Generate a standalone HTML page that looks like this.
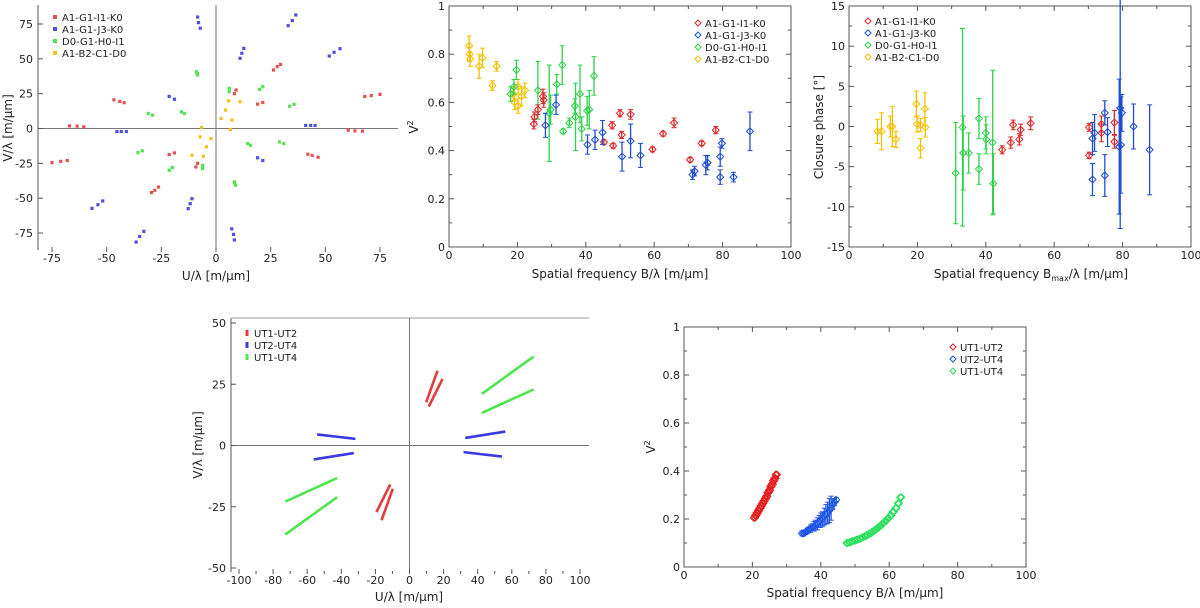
<!DOCTYPE html>
<html><head><meta charset="utf-8"><style>
html,body{margin:0;padding:0;background:#fff;}
svg{display:block;font-family:"DejaVu Sans","Liberation Sans",sans-serif;}
</style></head><body>
<svg id="fig" width="1200" height="608" viewBox="0 0 1200 608" xmlns="http://www.w3.org/2000/svg"></svg>
<script>
// ---------- DATA ----------
// Panel 1 uv coverage (one half; the other half is the point-symmetric copy)
const uv1RedU=[68,71,75,60.5,63.5,67,42,44,46.7,26.3,28,29.5,8.4,9.2,19,21.4];
const uv1RedV=[23,23.6,24.5,-1.2,-1.7,-1.9,-18.5,-19.4,-20.6,42,44.4,46,25,27.6,17.5,18.7];
const uv1BlueU=[33,34.9,36.5,51.8,54,56.7,41,43.3,45.3,19,21.4,11,11.8,12.7,-8.4,-8,-7.2];
const uv1BlueV=[73.8,77.5,81.5,52,54.7,57.3,2.2,2.2,2.2,-21,-23,50.4,54,57.5,80,76,72];
const uv1GreenU=[-9,-8.6,-8.4,6.1,6.1,20,21.4,33.7,35.7,29,31,14.5,15.8];
const uv1GreenV=[40.7,39.5,38.4,28.8,26.4,28,30,16,17.3,-9.6,-10.8,-10.8,-12];
const uv1YellowU=[2.3,4.3,5.8,7.3,11,6.6];
const uv1YellowV=[7.2,13.2,19.9,6,19.2,-0.7];
const uv1Ticks=[-75,-50,-25,0,25,50,75];

// Panel 2 V2 vs spatial frequency
const v2YelX=[5.9,6,6.2,8.8,9.8,12.7,13.9,18.8,19.2,20.2,21.2,22.2,20.2];
const v2YelY=[0.835,0.80,0.78,0.75,0.785,0.67,0.75,0.635,0.60,0.585,0.625,0.65,0.665];
const v2YelE=[0.04,0.03,0.03,0.05,0.04,0.02,0.02,0.03,0.03,0.03,0.04,0.03,0.03];
const v2GrnX=[18,19,19.7,26,29.3,29.7,31.5,33.1,33.4,35.2,36.8,37,38.3,38.8,40.4,41,42.4];
const v2GrnY=[0.635,0.665,0.735,0.65,0.555,0.57,0.675,0.755,0.48,0.515,0.585,0.54,0.635,0.49,0.565,0.57,0.71];
const v2GrnE=[0.03,0.03,0.04,0.12,0.2,0.06,0.04,0.08,0.01,0.02,0.03,0.14,0.12,0.05,0.06,0.08,0.08];
const v2RedX=[24.8,25,26,27.5,27.7,45.3,47.7,48,50,50.5,53.1,59.5,62.6,65.8,70.5,73.9,78];
const v2RedY=[0.51,0.54,0.57,0.625,0.61,0.435,0.505,0.42,0.555,0.465,0.55,0.405,0.47,0.515,0.362,0.43,0.485];
const v2RedE=[0.02,0.02,0.02,0.03,0.03,0.01,0.015,0.01,0.015,0.015,0.02,0.01,0.01,0.02,0.01,0.01,0.015];
const v2BluX=[28.2,31.3,40.5,42.7,44.9,50.6,53.1,56,71.2,71.8,75.1,75.6,79.3,79.3,79.8,83.2,88];
const v2BluY=[0.505,0.59,0.425,0.445,0.475,0.375,0.44,0.38,0.30,0.315,0.34,0.35,0.375,0.29,0.43,0.29,0.48];
const v2BluE=[0.05,0.04,0.04,0.04,0.05,0.06,0.07,0.05,0.02,0.02,0.04,0.03,0.04,0.03,0.02,0.02,0.08];

// Panel 3 closure phase
const cpYelX=[8.3,9.5,12.1,12.7,13.7,19.7,19.9,20.9,20.9,22.2,22.3];
const cpYelY=[-0.6,-0.6,0,0,-1.6,2.8,0.3,0.2,-2.7,2.2,-0.1];
const cpYelE=[1.5,2.3,1.3,2.5,1,1.6,1,0.8,1.2,2,1.2];
const cpGrnX=[31.2,33.2,33.4,35,38,38,40,40.1,42,42.2];
const cpGrnY=[-5.8,-0.1,-3.3,-3.3,1.0,-5.3,-0.8,-1.6,-2,-7.1];
const cpGrnE=[6.3,12.3,4.6,2.5,2.5,1.9,2,1.8,9,3.7];
const cpRedX=[44.8,47.3,48,49.8,50.2,53.1,70.2,70.2,73.8,73.8,77.6,77.6];
const cpRedY=[-2.9,-2,0.2,-1.6,-0.4,0.4,-0.1,-3.6,-0.8,0.3,0.5,-1.9];
const cpRedE=[0.5,0.7,0.6,0.7,0.7,0.8,0.5,0.4,1.1,1,1.5,0.8];
const cpBluX=[71.2,71.2,71.8,74.8,74.8,75.6,79,79.3,79.5,79.8,83.2,87.9];
const cpBluY=[-6.6,-1.5,-0.8,1.7,-6.1,-0.7,-2.5,2.3,-2.3,1.7,0,-2.9];
const cpBluE=[2,2,2.3,1.5,2.6,1.8,8.4,15,6,2.3,2.8,5.6];

// Panel 4 UT uv tracks (start u,v -> end u,v); other half mirrored
const utRedU0=[9.8,11.3], utRedV0=[17.7,15.9], utRedU1=[16.4,19.4], utRedV1=[30.5,27.2];
const utBluU0=[32.7,31.7], utBluV0=[3.1,-2.7], utBluU1=[56.2,54.2], utBluV1=[5.7,-4.5];
const utGrnU0=[42.5,42.5], utGrnV0=[21.1,13.3], utGrnU1=[72.8,72.8], utGrnV1=[36.3,22.9];

// Panel 5 UT V2
const utV2RedX=[20.8,21.2,21.6,22,22.4,22.8,23.2,23.6,24,24.4,24.8,25.2,25.6,26,26.4,26.8,27.2];
const utV2RedY=[0.205,0.215,0.225,0.235,0.245,0.255,0.265,0.275,0.285,0.295,0.31,0.32,0.335,0.345,0.36,0.37,0.385];
const utV2BluX=[34.5,35,35.5,36,36.5,37,37.5,38,38.5,39,39.5,40,40.5,41,41.5,42,42.5,43,43.5,44,44.5];
const utV2BluY=[0.14,0.14,0.145,0.15,0.155,0.16,0.165,0.17,0.175,0.18,0.19,0.195,0.2,0.21,0.22,0.225,0.235,0.245,0.26,0.27,0.28];
const utV2BluE=[0.01,0.01,0.01,0.012,0.012,0.015,0.015,0.02,0.02,0.025,0.025,0.03,0.03,0.035,0.04,0.045,0.05,0.05,0.02,0.015,0.01];
const utV2GrnX=[47.5,48.3,49,49.8,50.5,51.3,52,52.8,53.5,54.3,55,55.8,56.5,57.3,58,58.8,59.5,60.3,61,61.8,62.5,63.2];
const utV2GrnY=[0.10,0.103,0.107,0.11,0.114,0.118,0.123,0.128,0.134,0.14,0.147,0.155,0.163,0.172,0.182,0.192,0.203,0.215,0.23,0.245,0.265,0.29];

// ---------- DRAWING ----------
const NS="http://www.w3.org/2000/svg";
const svg=document.getElementById('fig');
function mk(tag,attrs,parent,txt){const e=document.createElementNS(NS,tag);for(const k in attrs)e.setAttribute(k,attrs[k]);if(txt!==undefined)e.textContent=txt;(parent||svg).appendChild(e);return e;}
function scale(d0,d1,p0,p1){return v=>p0+(v-d0)*(p1-p0)/(d1-d0);}
function grp(name){const g=mk('g',{});return g;}
const AX='#555';

function frameBox(g,x0,y0,x1,y1){mk('rect',{x:x0,y:y0,width:x1-x0,height:y1-y0,fill:'none',stroke:AX,'stroke-width':1},g);}
function xTicks(g,sx,vals,minor,y0,y1,labY,fmt,both){
  vals.forEach(v=>{const x=sx(v);mk('line',{x1:x,x2:x,y1:y1,y2:y1-5,stroke:AX},g);if(both)mk('line',{x1:x,x2:x,y1:y0,y2:y0+5,stroke:AX},g);
    const t=mk('text',{x:x,y:labY,'font-size':11,'text-anchor':'middle',fill:'#222'},g,fmt(v));});
  minor.forEach(v=>{const x=sx(v);mk('line',{x1:x,x2:x,y1:y1,y2:y1-3,stroke:AX},g);if(both)mk('line',{x1:x,x2:x,y1:y0,y2:y0+3,stroke:AX},g);});
}
function yTicks(g,sy,vals,minor,x0,x1,labX,fmt,both){
  vals.forEach(v=>{const y=sy(v);mk('line',{x1:x0,x2:x0+5,y1:y,y2:y,stroke:AX},g);if(both)mk('line',{x1:x1,x2:x1-5,y1:y,y2:y,stroke:AX},g);
    const t=mk('text',{x:labX,y:y+4,'font-size':11,'text-anchor':'end',fill:'#222'},g,fmt(v));});
  minor.forEach(v=>{const y=sy(v);mk('line',{x1:x0,x2:x0+3,y1:y,y2:y,stroke:AX},g);if(both)mk('line',{x1:x1,x2:x1-3,y1:y,y2:y,stroke:AX},g);});
}
function diamond(g,x,y,c,r){r=r||3.5;mk('path',{d:`M${x} ${y-r}L${x+r} ${y}L${x} ${y+r}L${x-r} ${y}Z`,fill:'none',stroke:c,'stroke-width':1},g);}
function errPts(g,sx,sy,X,Y,E,c,name,r){
  for(let i=0;i<X.length;i++){
    const x=sx(X[i]),y=sy(Y[i]);
    if(E){const ya=sy(Y[i]+E[i]),yb=sy(Y[i]-E[i]);
      mk('line',{x1:x,x2:x,y1:ya,y2:yb,stroke:c,'stroke-width':1.3},g);
      mk('line',{x1:x-2.5,x2:x+2.5,y1:ya,y2:ya,stroke:c},g);mk('line',{x1:x-2.5,x2:x+2.5,y1:yb,y2:yb,stroke:c},g);}
    const p=mk('g',{},g);
    
    
    diamond(p,x,y,c,r);
  }
}
function legend(g,x,y0,dy,items,kind){
  items.forEach((it,i)=>{const y=y0+i*dy;const e=mk('g',{},g);
    
    
    if(kind==='sq')mk('rect',{x:x-2,y:y-2,width:4,height:4,fill:it[1]},e);
    else if(kind==='bar')mk('rect',{x:x-1.5,y:y-3,width:3,height:6,fill:it[1]},e);
    else diamond(e,x,y,it[1],3);
    mk('text',{x:x+7,y:y+4,'font-size':10,fill:'#222'},e,it[0]);});
}
function title(g,x,y,txt,rot,name){const t=mk('text',{x:x,y:y,'font-size':12,'text-anchor':'middle',fill:'#222',transform:rot?`rotate(-90 ${x} ${y})`:''},g);t.innerHTML=txt;return t;}
const R='#e0282a',B='#1f4fd0',G='#2ed24a',Y='#f5c000';

// ---- Panel 1 ----
(function(){
  const g=grp('uv-coverage-panel');
  const sx=scale(-75,75,52,380), sy=scale(-75,75,233,24);
  mk('line',{x1:38,x2:38,y1:5,y2:250,stroke:AX},g);
  mk('line',{x1:sx(0),x2:sx(0),y1:5,y2:250,stroke:'#777'},g);
  mk('line',{x1:38,x2:398,y1:sy(0),y2:sy(0),stroke:'#777'},g);
  xTicks(g,sx,uv1Ticks,[],5,252,262,v=>v,false);
  yTicks(g,sy,uv1Ticks,[],38,398,33,v=>v,false);
  const sets=[[uv1RedU,uv1RedV,'#e85050'],[uv1BlueU,uv1BlueV,'#5050e0'],[uv1GreenU,uv1GreenV,'#55e055'],[uv1YellowU,uv1YellowV,'#f2c21a']];
  sets.forEach(s=>{for(let i=0;i<s[0].length;i++){[1,-1].forEach(m=>{const p=mk('rect',{x:sx(m*s[0][i])-1.6,y:sy(m*s[1][i])-1.6,width:3.2,height:3.2,fill:s[2]},g);
    
    });}});
  legend(g,55,17,12,[['A1-G1-I1-K0','#e85050'],['A1-G1-J3-K0','#5050e0'],['D0-G1-H0-I1','#55e055'],['A1-B2-C1-D0','#f2c21a']],'sq');
  title(g,216,280,'U/λ  [m/μm]',false,'x-axis-title');
  title(g,12,128,'V/λ  [m/μm]',true,'y-axis-title');
})();

// ---- Panel 2 ----
(function(){
  const g=grp('v2-panel');
  const sx=scale(0,100,449,791), sy=scale(0,1,247,6);
  frameBox(g,449,6,791,247);
  xTicks(g,sx,[0,20,40,60,80,100],[10,30,50,70,90],6,247,259,v=>v,true);
  yTicks(g,sy,[0,0.2,0.4,0.6,0.8,1],[0.1,0.3,0.5,0.7,0.9],449,791,445,v=>v,true);
  errPts(g,sx,sy,v2YelX,v2YelY,v2YelE,Y,'v2-point-a1b2c1d0');
  errPts(g,sx,sy,v2GrnX,v2GrnY,v2GrnE,G,'v2-point-d0g1h0i1');
  errPts(g,sx,sy,v2RedX,v2RedY,v2RedE,R,'v2-point-a1g1i1k0');
  errPts(g,sx,sy,v2BluX,v2BluY,v2BluE,B,'v2-point-a1g1j3k0');
  legend(g,698,23,12,[['A1-G1-I1-K0',R],['A1-G1-J3-K0',B],['D0-G1-H0-I1',G],['A1-B2-C1-D0',Y]],'d');
  title(g,620,278,'Spatial frequency B/λ [m/μm]',false,'x-axis-title');
  title(g,418,127,'V<tspan dy="-5" font-size="8">2</tspan>',true,'y-axis-title');
})();

// ---- Panel 3 ----
(function(){
  const g=grp('closure-phase-panel');
  const sx=scale(0,100,849,1191), sy=scale(-15,15,247,6);
  frameBox(g,849,6,1191,247);
  xTicks(g,sx,[0,20,40,60,80,100],[10,30,50,70,90],6,247,259,v=>v,true);
  yTicks(g,sy,[-15,-10,-5,0,5,10,15],[-12.5,-7.5,-2.5,2.5,7.5,12.5],849,1191,845,v=>v,true);
  errPts(g,sx,sy,cpYelX,cpYelY,cpYelE,Y,'cp-point-a1b2c1d0');
  errPts(g,sx,sy,cpGrnX,cpGrnY,cpGrnE,G,'cp-point-d0g1h0i1');
  errPts(g,sx,sy,cpRedX,cpRedY,cpRedE,R,'cp-point-a1g1i1k0');
  errPts(g,sx,sy,cpBluX,cpBluY,cpBluE,B,'cp-point-a1g1j3k0');
  legend(g,868,21,12,[['A1-G1-I1-K0',R],['A1-G1-J3-K0',B],['D0-G1-H0-I1',G],['A1-B2-C1-D0',Y]],'d');
  title(g,1031,278,'Spatial frequency B<tspan dy="3" font-size="8">max</tspan><tspan dy="-3">/λ  [m/μm]</tspan>',false,'x-axis-title');
  title(g,823,127,'Closure phase  [°]',true,'y-axis-title');
})();

// ---- Panel 4 ----
(function(){
  const g=grp('ut-uv-coverage-panel');
  const sx=scale(-100,100,239,580), sy=scale(-50,50,568,323);
  mk('line',{x1:231,x2:231,y1:318,y2:572,stroke:AX},g);
  mk('line',{x1:231,x2:589,y1:318,y2:318,stroke:'#999'},g);
  mk('line',{x1:sx(0),x2:sx(0),y1:318,y2:572,stroke:'#777'},g);
  mk('line',{x1:231,x2:589,y1:sy(0),y2:sy(0),stroke:'#777'},g);
  xTicks(g,sx,[-100,-80,-60,-40,-20,0,20,40,60,80,100],[-90,-70,-50,-30,-10,10,30,50,70,90],318,574,584,v=>v,false);
  yTicks(g,sy,[-50,-25,0,25,50],[],231,589,226,v=>v,false);
  const sets=[[utRedU0,utRedV0,utRedU1,utRedV1,'#e43c3c','ut1-ut2-track'],[utBluU0,utBluV0,utBluU1,utBluV1,'#3a3ae0','ut2-ut4-track'],[utGrnU0,utGrnV0,utGrnU1,utGrnV1,'#4de64d','ut1-ut4-track']];
  sets.forEach(s=>{for(let i=0;i<s[0].length;i++){[1,-1].forEach(m=>{const l=mk('line',{x1:sx(m*s[0][i]),y1:sy(m*s[1][i]),x2:sx(m*s[2][i]),y2:sy(m*s[3][i]),stroke:s[4],'stroke-width':2.6},g);
    
    });}});
  legend(g,247,333,12,[['UT1-UT2','#e43c3c'],['UT2-UT4','#3a3ae0'],['UT1-UT4','#4de64d']],'bar');
  title(g,409,601,'U/λ  [m/μm]',false,'x-axis-title');
  title(g,202,445,'V/λ  [m/μm]',true,'y-axis-title');
})();

// ---- Panel 5 ----
(function(){
  const g=grp('ut-v2-panel');
  const sx=scale(0,100,684,1026), sy=scale(0,1,567,327);
  frameBox(g,684,327,1026,567);
  xTicks(g,sx,[0,20,40,60,80,100],[10,30,50,70,90],327,567,579,v=>v,true);
  yTicks(g,sy,[0,0.2,0.4,0.6,0.8,1],[0.1,0.3,0.5,0.7,0.9],684,1026,680,v=>v,true);
  errPts(g,sx,sy,utV2RedX,utV2RedY,null,'#e41e1e','ut1-ut2-point',3.5);
  errPts(g,sx,sy,utV2RedX.map(v=>v-0.4),utV2RedY,null,'#e41e1e','ut1-ut2-point',3.5);
  errPts(g,sx,sy,utV2BluX,utV2BluY,utV2BluE,'#1f55e6','ut2-ut4-point',3.5);
  errPts(g,sx,sy,utV2GrnX,utV2GrnY,null,'#2ee062','ut1-ut4-point',3.5);
  errPts(g,sx,sy,utV2GrnX.map(v=>v+0.35),utV2GrnY,null,'#2ee062','ut1-ut4-point',3.5);
  legend(g,953,347,12,[['UT1-UT2','#e41e1e'],['UT2-UT4','#1f55e6'],['UT1-UT4','#2ee062']],'d');
  title(g,855,597,'Spatial frequency B/λ [m/μm]',false,'x-axis-title');
  title(g,655,447,'V<tspan dy="-5" font-size="8">2</tspan>',true,'y-axis-title');
})();
</script>
</body></html>
